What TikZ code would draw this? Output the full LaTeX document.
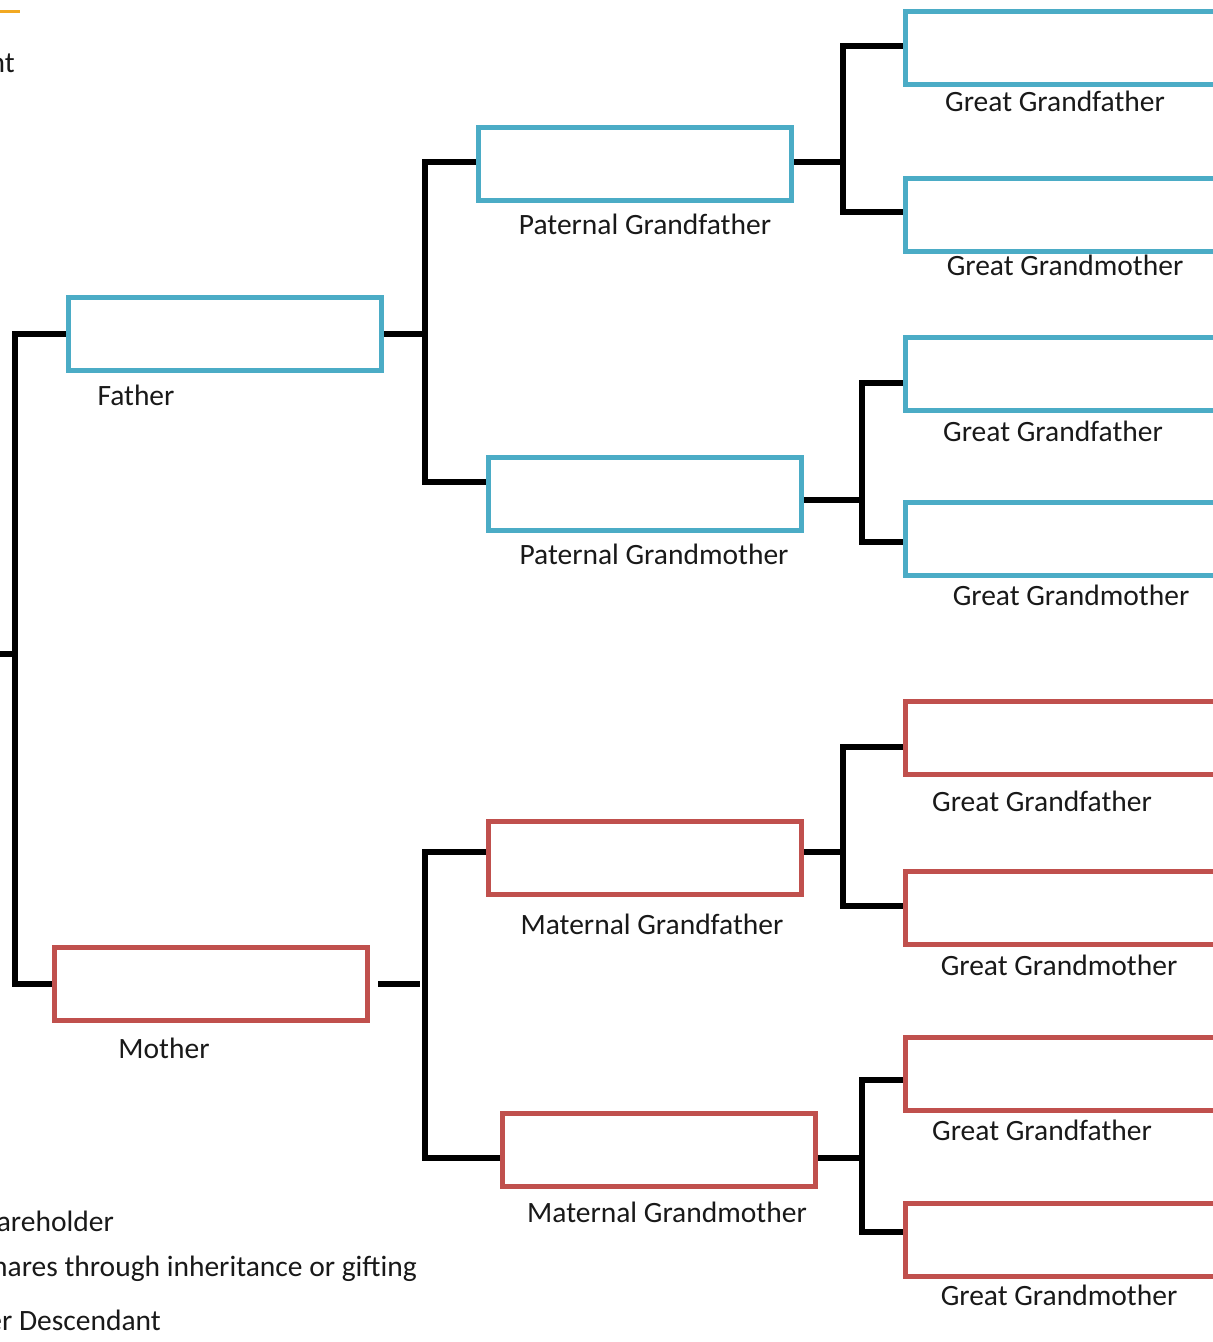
\documentclass[tikz,border=0pt]{standalone}
\usepackage{fontspec}
\setmainfont{Carlito}
\usetikzlibrary{calc}
\definecolor{pblue}{HTML}{4BACC6}
\definecolor{mred}{HTML}{C0504D}
\definecolor{legold}{HTML}{F2A922}
\begin{document}
\begin{tikzpicture}[x=1pt,y=-1pt,
  box/.style={draw, line width=5pt, minimum width=313pt, minimum height=73pt, inner sep=0pt},
  pbox/.style={box, draw=pblue},
  mbox/.style={box, draw=mred},
  gbox/.style={box, minimum width=337pt},
  conn/.style={draw=black, line width=5.5pt},
  lbl/.style={font=\fontsize{29.5}{33}\selectfont, inner sep=0pt, text=black!90}
]
\useasboundingbox (0,0) rectangle (1213,1342);
\clip (0,0) rectangle (1213,1342);

% top-left fragment
\draw[legold, line width=3pt] (-2,11) -- (20,11);
\node[lbl, anchor=east] (tl) at (15,63) {nt};

% boxes
\node[pbox] (father) at (225,334) {};
\node[mbox] (mother) at (211,984) {};
\node[pbox] (pgf) at (635,163.5) {};
\node[pbox] (pgm) at (645,493.5) {};
\node[mbox] (mgf) at (645,857.5) {};
\node[mbox] (mgm) at (659,1149.5) {};
\node[gbox, draw=pblue] (g1) at (1074,48) {};
\node[gbox, draw=pblue] (g2) at (1074,214.5) {};
\node[gbox, draw=pblue] (g3) at (1074,374) {};
\node[gbox, draw=pblue] (g4) at (1074,538.5) {};
\node[gbox, draw=mred] (g5) at (1074,737.5) {};
\node[gbox, draw=mred] (g6) at (1074,907.5) {};
\node[gbox, draw=mred] (g7) at (1074,1073.5) {};
\node[gbox, draw=mred] (g8) at (1074,1239.5) {};

% labels
\node[lbl] (lfather) at (136,395) {Father};
\node[lbl] (lmother) at (164,1048) {Mother};
\node[lbl] (lpgf) at (645,224) {Paternal Grandfather};
\node[lbl] (lpgm) at (654,554) {Paternal Grandmother};
\node[lbl] (lmgf) at (652,924) {Maternal Grandfather};
\node[lbl] (lmgm) at (667,1212) {Maternal Grandmother};
\node[lbl] (lg1) at (1055,101) {Great Grandfather};
\node[lbl] (lg2) at (1065,265) {Great Grandmother};
\node[lbl] (lg3) at (1053,431) {Great Grandfather};
\node[lbl] (lg4) at (1071,595) {Great Grandmother};
\node[lbl] (lg5) at (1042,801) {Great Grandfather};
\node[lbl] (lg6) at (1059,965) {Great Grandmother};
\node[lbl] (lg7) at (1042,1130) {Great Grandfather};
\node[lbl] (lg8) at (1059,1295) {Great Grandmother};

% bottom-left fragments
\node[lbl, anchor=east] (b1) at (114,1221) {areholder};
\node[lbl, anchor=east] (b2) at (417,1269) {hares through inheritance or gifting};
\node[lbl, anchor=east] (b3) at (161,1320) {er Descendant};

% bend points
\coordinate (lv) at (15,654);
\coordinate (stub) at (-5,654);
\coordinate (pv) at (425,336);
\coordinate (mv) at (425,984);
\coordinate (ms) at (420,984);
\coordinate (v1) at (843,162);
\coordinate (v2) at (862,500);
\coordinate (v3) at (843,852);
\coordinate (v4) at (862,1158);

% connectors
\draw[conn] (father.west) -| (lv) |- (mother.west);
\draw[conn] (lv) -- (stub);

\draw[conn] (father.east) -- (father.east -| pv);
\draw[conn] ($(pgf.west)+(0,-1.5)$) -| (pv) |- ($(pgm.west)+(0,-11.5)$);
\draw[conn] ($(mother.east)+(8,0)$) -- (ms);
\draw[conn] ($(mgf.west)+(0,-5.5)$) -| (mv) |- ($(mgm.west)+(0,8.5)$);

\draw[conn] ($(pgf.east)+(0,-1.5)$) -- (v1);
\draw[conn] ($(g1.west)+(0,-2)$) -| (v1) |- ($(g2.west)+(0,-2.5)$);
\draw[conn] ($(pgm.east)+(0,6.5)$) -- (v2);
\draw[conn] ($(g3.west)+(0,9)$) -| (v2) |- ($(g4.west)+(0,3.5)$);
\draw[conn] ($(mgf.east)+(0,-5.5)$) -- (v3);
\draw[conn] ($(g5.west)+(0,9.5)$) -| (v3) |- ($(g6.west)+(0,-1.5)$);
\draw[conn] ($(mgm.east)+(0,8.5)$) -- (v4);
\draw[conn] ($(g7.west)+(0,6.5)$) -| (v4) |- ($(g8.west)+(0,-7.5)$);
\end{tikzpicture}
\end{document}
